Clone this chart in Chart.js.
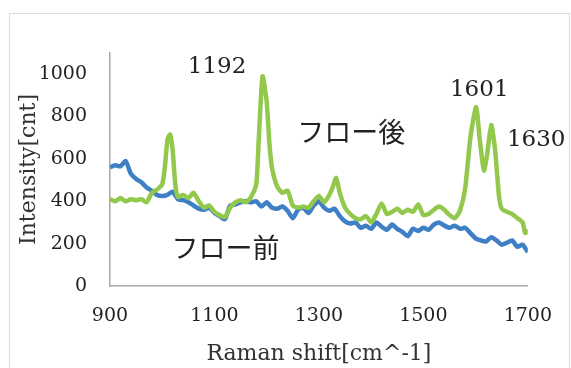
<!DOCTYPE html>
<html>
<head>
<meta charset="utf-8">
<script src="https://cdn.jsdelivr.net/npm/chart.js@4.4.1/dist/chart.umd.min.js"></script>
<style>
  html, body { margin: 0; background: #fff; }
  #wrap { width: 571px; height: 368px; }
</style>
</head>
<body>
<div id="wrap"><canvas id="ramanChart"></canvas></div>
<script>
// after flow (green)
const shiftAfter = [900, 910, 920, 930, 940, 950, 960, 970, 980, 990, 1000, 1005, 1010, 1015, 1020, 1025, 1030,
  1040, 1050, 1060, 1070, 1080, 1090, 1100, 1110, 1120, 1130, 1140, 1150, 1160, 1170, 1180, 1185, 1192,
  1200, 1205, 1210, 1220, 1230, 1240, 1250, 1260, 1270, 1280, 1290, 1300, 1310, 1320, 1327, 1333, 1340,
  1350, 1360, 1370, 1380, 1390, 1400, 1410, 1420, 1430, 1440, 1450, 1460, 1470, 1480, 1490, 1500, 1510,
  1520, 1530, 1540, 1550, 1560, 1570, 1580, 1590, 1601, 1608, 1616, 1622, 1630, 1637, 1645, 1650, 1660,
  1670, 1680, 1690, 1695, 1700];
const intensityAfter = [410, 400, 415, 400, 410, 405, 410, 395, 440, 455, 480, 560, 690, 715, 640, 480, 420,
  430, 415, 440, 400, 370, 380, 350, 335, 325, 370, 395, 405, 395, 420, 480, 700, 990,
  870, 680, 560, 470, 440, 450, 380, 370, 375, 370, 400, 425, 395, 430, 470, 510, 440,
  370, 340, 320, 315, 330, 300, 340, 390, 340, 350, 365, 345, 360, 350, 385, 335, 340,
  360, 375, 360, 335, 320, 355, 460, 700, 845, 690, 545, 620, 760, 650, 420, 365, 350,
  340, 320, 300, 250, 265];

// before flow (blue)
const shiftBefore = [900, 910, 920, 930, 940, 950, 960, 970, 980, 990, 1000, 1010, 1020, 1030, 1040, 1050,
  1060, 1070, 1080, 1090, 1100, 1110, 1120, 1130, 1140, 1150, 1160, 1170, 1180, 1190, 1200, 1210, 1220,
  1230, 1240, 1250, 1260, 1270, 1280, 1290, 1300, 1310, 1320, 1330, 1340, 1350, 1360, 1370, 1380, 1390,
  1400, 1410, 1420, 1430, 1440, 1450, 1460, 1470, 1480, 1490, 1500, 1510, 1520, 1530, 1540, 1550, 1560,
  1570, 1580, 1590, 1600, 1610, 1620, 1630, 1640, 1650, 1660, 1670, 1680, 1690, 1700];
const intensityBefore = [560, 570, 565, 590, 530, 505, 490, 465, 450, 430, 425, 430, 445, 410, 405, 395,
  380, 365, 360, 370, 345, 330, 315, 380, 385, 395, 400, 395, 400, 375, 395, 370, 365,
  375, 355, 320, 360, 370, 345, 380, 400, 370, 355, 365, 330, 305, 295, 300, 275, 285,
  270, 300, 280, 265, 290, 270, 255, 235, 270, 260, 275, 265, 290, 300, 285, 275, 285,
  270, 275, 250, 225, 215, 210, 230, 215, 195, 205, 215, 185, 195, 160];

const xTicks = [900, 1100, 1300, 1500, 1700];
const yTicks = [0, 200, 400, 600, 800, 1000];

const seriesNames = ['フロー後', 'フロー前'];
const peakNames = ['1192', '1601', '1630'];

// text labels placed in data space
const notes = [
  { text: peakNames[0], x: 1105, y: 1033, font: '23px "DejaVu Serif"' },
  { text: peakNames[1], x: 1607, y: 925, font: '23px "DejaVu Serif"' },
  { text: peakNames[2], x: 1716, y: 689, font: '23px "DejaVu Serif"' },
  { text: seriesNames[0], x: 1362, y: 726, font: '27px "Noto Sans CJK JP"' },
  { text: seriesNames[1], x: 1121, y: 179, font: '27px "Noto Sans CJK JP"' }
];

function toPoints(xs, ys) {
  return xs.map((x, i) => ({ x: x, y: ys[i] }));
}

const framePlugin = {
  id: 'frame',
  beforeDraw(chart) {
    const ctx = chart.ctx;
    ctx.save();
    ctx.fillStyle = '#fff';
    ctx.fillRect(0, 0, chart.width, chart.height);
    ctx.strokeStyle = '#dcdcdc';
    ctx.lineWidth = 1;
    ctx.strokeRect(9.5, 13.5, 560, 400);
    ctx.restore();
  }
};

const notesPlugin = {
  id: 'notes',
  afterDatasetsDraw(chart) {
    const { ctx, scales: { x, y } } = chart;
    ctx.save();
    ctx.textAlign = 'center';
    ctx.textBaseline = 'middle';
    ctx.fillStyle = '#222';
    notes.forEach(n => {
      ctx.font = n.font;
      ctx.fillText(n.text, x.getPixelForValue(n.x), y.getPixelForValue(n.y));
    });
    ctx.restore();
  }
};

const ctx = document.getElementById('ramanChart').getContext('2d');
new Chart(ctx, {
  type: 'scatter',
  data: {
    datasets: [{
      label: seriesNames[0],
      data: toPoints(shiftAfter, intensityAfter),
      showLine: true,
      borderColor: '#92c84c',
      borderWidth: 4.5,
      pointRadius: 0,
      tension: 0.2
    }, {
      label: seriesNames[1],
      data: toPoints(shiftBefore, intensityBefore),
      showLine: true,
      borderColor: '#3f7fc6',
      borderWidth: 4.5,
      pointRadius: 0,
      tension: 0.2
    }]
  },
  options: {
    responsive: true,
    maintainAspectRatio: false,
    animation: false,
    layout: { padding: { top: 53, right: 40, left: 0, bottom: 0 } },
    plugins: {
      legend: { display: false },
      tooltip: { enabled: false }
    },
    scales: {
      x: {
        type: 'linear',
        min: 900,
        max: 1700,
        afterFit: s => { s.height = 82; },
        afterBuildTicks: s => { s.ticks = xTicks.map(v => ({ value: v })); },
        grid: { display: false, drawTicks: false },
        border: { display: true, color: '#a8a8a8', width: 1.5 },
        ticks: {
          padding: 19,
          color: '#222',
          maxRotation: 0,
          callback: v => String(v),
          font: { family: 'DejaVu Serif', size: 19 }
        },
        title: {
          display: true,
          text: 'Raman shift[cm^-1]',
          color: '#333',
          padding: { top: 0, bottom: 1 },
          font: { family: 'DejaVu Serif', size: 22 }
        }
      },
      y: {
        min: 0,
        max: 1100,
        afterFit: s => { s.width = 110; },
        afterBuildTicks: s => { s.ticks = yTicks.map(v => ({ value: v })); },
        grid: { display: false, drawTicks: false },
        border: { display: true, color: '#a8a8a8', width: 1.5 },
        ticks: {
          padding: 23,
          color: '#222',
          callback: v => String(v),
          font: { family: 'DejaVu Serif', size: 19 }
        },
        title: {
          display: true,
          text: 'Intensity[cnt]',
          color: '#333',
          padding: { top: 16, bottom: 0 },
          font: { family: 'DejaVu Serif', size: 22 }
        }
      }
    }
  },
  plugins: [framePlugin, notesPlugin]
});
</script>
</body>
</html>
